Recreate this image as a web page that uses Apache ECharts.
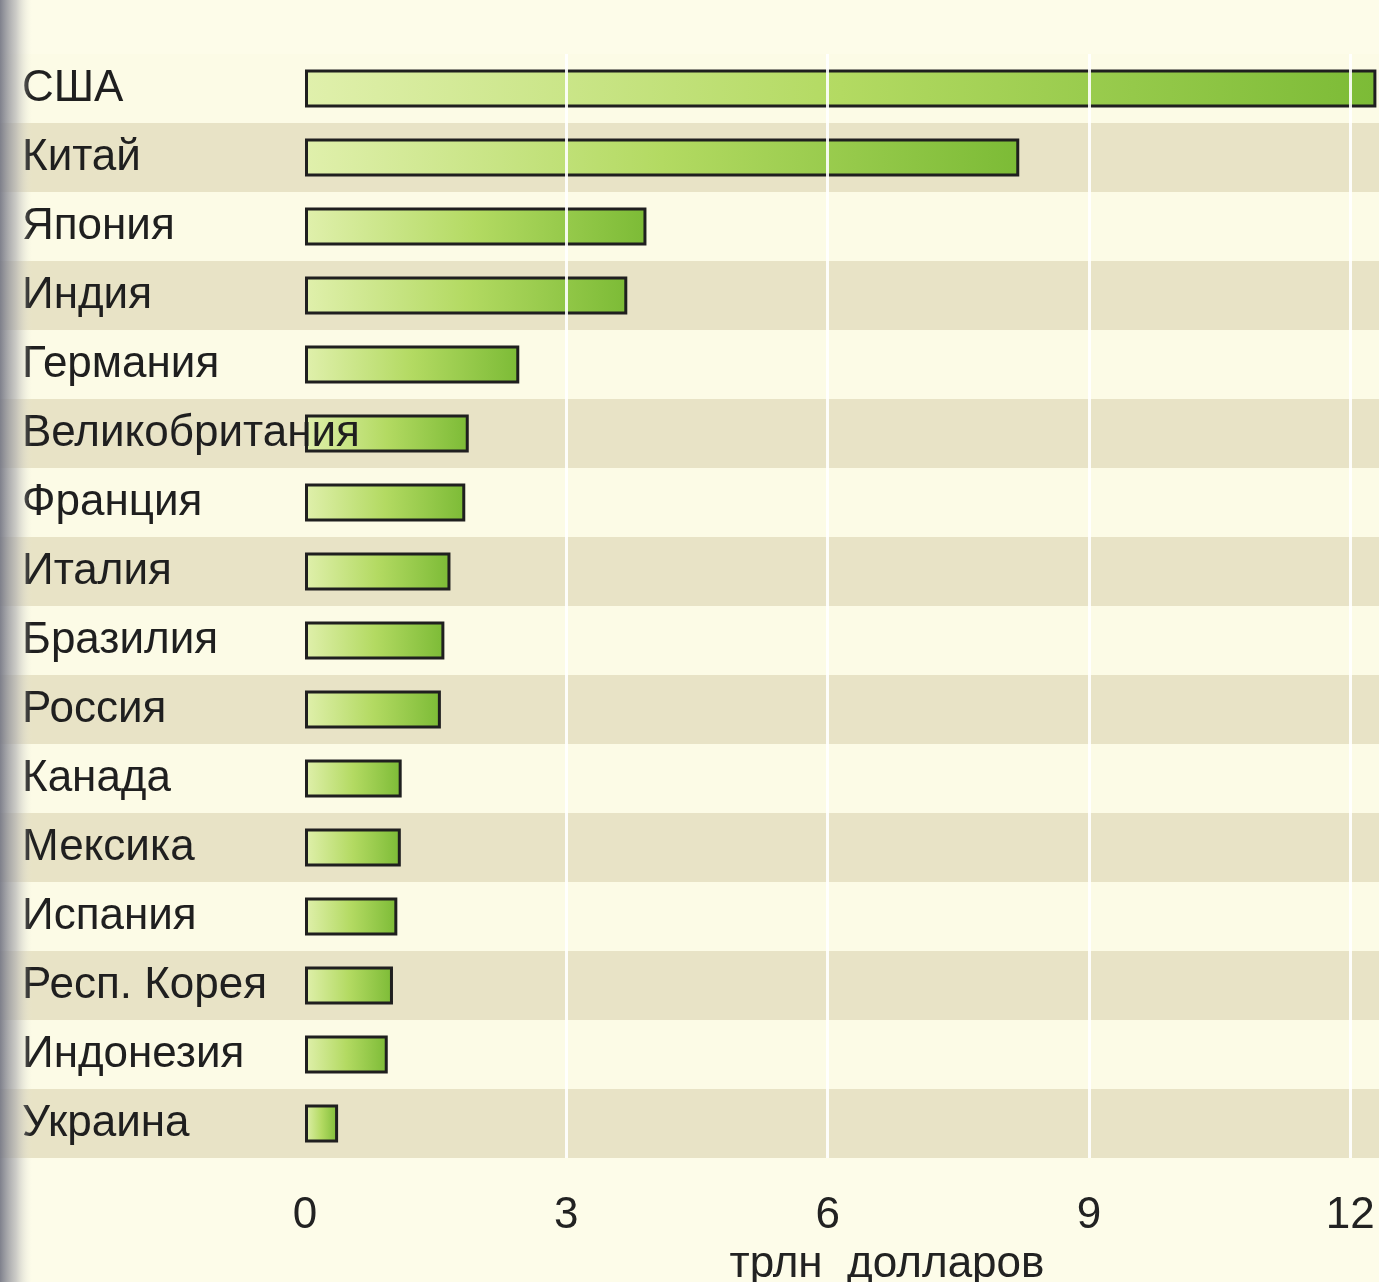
<!DOCTYPE html>
<html>
<head>
<meta charset="utf-8">
<script src="https://cdn.jsdelivr.net/npm/echarts@6/dist/echarts.min.js"></script>
<style>
  html, body { margin: 0; padding: 0; background: #fdfce9; }
  #chart { width: 1379px; height: 1282px; }
</style>
</head>
<body>
<div id="chart"></div>
<script>
// страны и ВВП, трлн долларов
const countries = [
  "США", "Китай", "Япония", "Индия", "Германия", "Великобритания", "Франция", "Италия",
  "Бразилия", "Россия", "Канада", "Мексика", "Испания", "Респ. Корея", "Индонезия", "Украина"
];
const gdp = [12.3, 8.2, 3.92, 3.7, 2.46, 1.88, 1.84, 1.67, 1.6, 1.56, 1.11, 1.1, 1.06, 1.01, 0.95, 0.38];
const xTicks = [0, 3, 6, 9, 12];
const axisTitle = "трлн  долларов";

const chart = echarts.init(document.getElementById("chart"));
const font = "'Liberation Sans', Arial, sans-serif";

const option = {
  backgroundColor: "#fdfce9",
  animation: false,
  grid: [
    { left: 305, right: 0, top: 54, bottom: 124, outerBoundsMode: "none" },
    { left: 0, right: 0, top: 54, bottom: 124, outerBoundsMode: "none" }
  ],
  xAxis: [
    {
      gridIndex: 0,
      type: "value",
      min: 0,
      max: 12.33,
      interval: 3,
      z: 5,
      axisLine: { show: false },
      axisTick: { show: false },
      splitLine: {
        show: true,
        showMinLine: false,
        showMaxLine: false,
        lineStyle: { color: "#ffffff", width: 3, opacity: 0.9 }
      },
      axisLabel: {
        margin: 36,
        color: "#222",
        fontSize: 44,
        fontFamily: font,
        formatter: function (v) {
          return xTicks.indexOf(v) >= 0 ? String(v) : "";
        }
      },
      name: axisTitle,
      nameLocation: "middle",
      nameGap: 80,
      nameTextStyle: { color: "#222", fontSize: 44, fontFamily: font, padding: [0, 0, 0, 90] }
    },
    { gridIndex: 1, type: "value", min: 0, max: 1, show: false }
  ],
  yAxis: [
    {
      gridIndex: 0,
      type: "category",
      data: countries,
      inverse: true,
      z: 6,
      axisLine: { show: false },
      axisTick: { show: false },
      splitLine: { show: false },
      axisLabel: {
        align: "left",
        margin: 283,
        color: "#1f1f1f",
        fontSize: 44,
        fontFamily: font
      }
    },
    {
      gridIndex: 1,
      type: "category",
      data: countries,
      inverse: true,
      z: -1,
      axisLine: { show: false },
      axisTick: { show: false },
      axisLabel: { show: false },
      splitLine: { show: false },
      splitArea: {
        show: true,
        areaStyle: { color: ["#fcfbe6", "#e8e3c6"] }
      }
    }
  ],
  series: [
    {
      type: "bar",
      xAxisIndex: 0,
      yAxisIndex: 0,
      data: gdp,
      barWidth: 38,
      z: 2,
      itemStyle: {
        borderColor: "#1f1f1f",
        borderWidth: 3,
        color: new echarts.graphic.LinearGradient(0, 0, 1, 0, [
          { offset: 0, color: "#e0f0ac" },
          { offset: 0.5, color: "#b3da62" },
          { offset: 1, color: "#7cbb36" }
        ])
      }
    }
  ],
  graphic: [
    {
      type: "rect",
      left: 0,
      top: 0,
      z: 100,
      shape: { width: 32, height: 1282 },
      style: {
        fill: new echarts.graphic.LinearGradient(0, 0, 1, 0, [
          { offset: 0, color: "rgba(120,122,135,0.95)" },
          { offset: 0.5, color: "rgba(170,170,175,0.6)" },
          { offset: 1, color: "rgba(230,230,220,0)" }
        ])
      }
    }
  ]
};

chart.setOption(option);
</script>
</body>
</html>
